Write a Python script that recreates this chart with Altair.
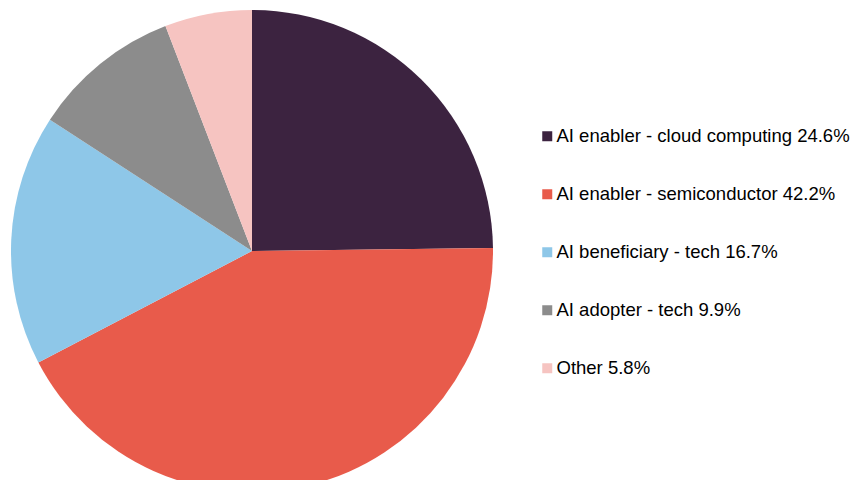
import altair as alt
import pandas as pd

categories = [
    "AI enabler - cloud computing 24.6%",
    "AI enabler - semiconductor 42.2%",
    "AI beneficiary - tech 16.7%",
    "AI adopter - tech 9.9%",
    "Other 5.8%",
]
values = [24.6, 42.2, 16.7, 9.9, 5.8]
colors = ["#3c2340", "#e85b4b", "#8ec7e8", "#8c8c8c", "#f6c4c1"]

df = pd.DataFrame({"cat": categories, "val": values, "ord": list(range(len(values)))})

chart = alt.Chart(df).mark_arc(
    outerRadius=241
).encode(
    theta=alt.Theta("val:Q", stack=True),
    order=alt.Order("ord:Q"),
    x=alt.value(244),
    y=alt.value(243),
    color=alt.Color(
        "cat:N",
        scale=alt.Scale(domain=categories, range=colors),
        sort=categories,
        legend=alt.Legend(
            title=None,
            orient="none",
            legendX=530,
            legendY=119,
            symbolType="square",
            symbolSize=100,
            symbolStrokeWidth=0,
            labelFont="Liberation Sans",
            labelFontSize=18.5,
            labelColor="#000000",
            labelLimit=400,
            labelOffset=0,
            rowPadding=39,
        ),
    ),
).properties(
    width=849, height=472, padding=0, autosize=alt.AutoSizeParams(type="none")
).configure_view(stroke=None)

chart.save("out.html", embed_options={"renderer": "svg", "actions": False})
